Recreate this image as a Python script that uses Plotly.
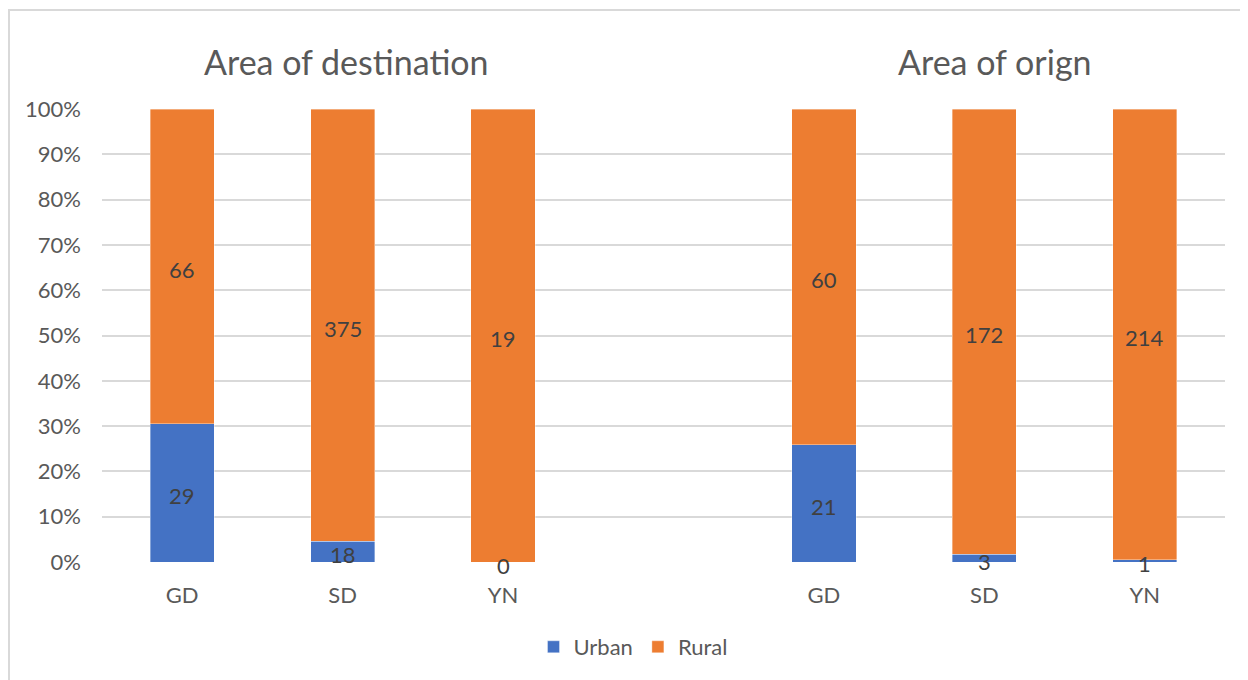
import numpy as np
import plotly.graph_objects as go

# ---- data ----
groups = ["Area of destination", "Area of orign"]
regions = ["GD", "SD", "YN"]
urban_dest = [29, 18, 0]
rural_dest = [66, 375, 19]
urban_orig = [21, 3, 1]
rural_orig = [60, 172, 214]
y_ticks = [0, 10, 20, 30, 40, 50, 60, 70, 80, 90, 100]

# positions: group 1 -> slots 0..2, empty slot 3, group 2 -> slots 4..6
slots = list(range(3)) + list(range(4, 7))
urban = urban_dest + urban_orig
rural = rural_dest + rural_orig
tick_text = regions + regions

BLUE = "#4472C4"
ORANGE = "#ED7D31"
GRID = "#D9D9D9"
TXT = "#595959"
LBL = "#404040"
FONT = "Lato, 'Open Sans', sans-serif"
FS = 22

fig = go.Figure()
edge = dict(color="rgba(255,255,255,0.6)", width=0.6)
fig.add_trace(go.Bar(x=slots, y=urban, name="Urban", marker=dict(color=BLUE, line=edge),
                     width=0.4, hoverinfo="skip"))
fig.add_trace(go.Bar(x=slots, y=rural, name="Rural", marker=dict(color=ORANGE, line=edge),
                     width=0.4, hoverinfo="skip"))

u = np.array(urban, dtype=float)
r = np.array(rural, dtype=float)
tot = u + r
u_pct = u / tot * 100
r_pct = r / tot * 100
for xs, ys, vals in [(slots, u_pct / 2, urban), (slots, u_pct + r_pct / 2, rural)]:
    for xv, yv, v in zip(xs, ys, vals):
        fig.add_annotation(x=xv, y=yv, xref="x", yref="y", text=str(v), showarrow=False,
                           font=dict(family=FONT, size=FS, color=LBL), yshift=-3,
                           xanchor="center", yanchor="middle")

# page has an 8px body margin; positions below are in screen pixels
OFF = 8
W, H = 1248, 680
L, R, T, B = 102 - OFF, W - (1225 - OFF), 109 - OFF, H - (562 - OFF)
pw, ph = W - L - R, H - T - B

def px_x(px):
    return (px - OFF - L) / pw

def px_y(py):
    return (H - B - (py - OFF)) / ph

fig.update_layout(
    width=W, height=H,
    barmode="stack", barnorm="percent",
    plot_bgcolor="white", paper_bgcolor="white",
    margin=dict(l=L, r=R, t=T, b=B),
    font=dict(family=FONT, color=TXT, size=FS),
    xaxis=dict(range=[-0.5, 6.5], tickmode="array", tickvals=slots, ticktext=tick_text, showgrid=False,
               zeroline=False, showline=False, ticks="", ticklabelstandoff=18,
               tickfont=dict(family=FONT, size=FS, color=TXT)),
    yaxis=dict(range=[0, 100], tickmode="array", tickvals=y_ticks, ticktext=[f"{v}%" for v in y_ticks],
               showgrid=True, gridcolor=GRID, gridwidth=1.5, zeroline=False, showline=False, ticks="",
               ticklabelstandoff=20, tickfont=dict(family=FONT, size=FS, color=TXT)),
    legend=dict(orientation="h", x=px_x(633), xanchor="center", y=px_y(647), yanchor="middle",
                font=dict(family=FONT, size=FS, color=TXT), itemwidth=30, traceorder="normal"),
    showlegend=True,
)

fig.add_annotation(x=px_x(346), y=px_y(62), xref="paper", yref="paper", text=groups[0], showarrow=False,
                   font=dict(family=FONT, size=34, color=TXT), xanchor="center", yanchor="middle")
fig.add_annotation(x=px_x(995), y=px_y(62), xref="paper", yref="paper", text=groups[1], showarrow=False,
                   font=dict(family=FONT, size=34, color=TXT), xanchor="center", yanchor="middle")

fig.add_shape(type="rect", xref="paper", yref="paper", x0=px_x(9), y0=px_y(720), x1=px_x(1290), y1=px_y(10),
              line=dict(color=GRID, width=2), fillcolor="rgba(0,0,0,0)", layer="below")

fig.write_html("out.html")
